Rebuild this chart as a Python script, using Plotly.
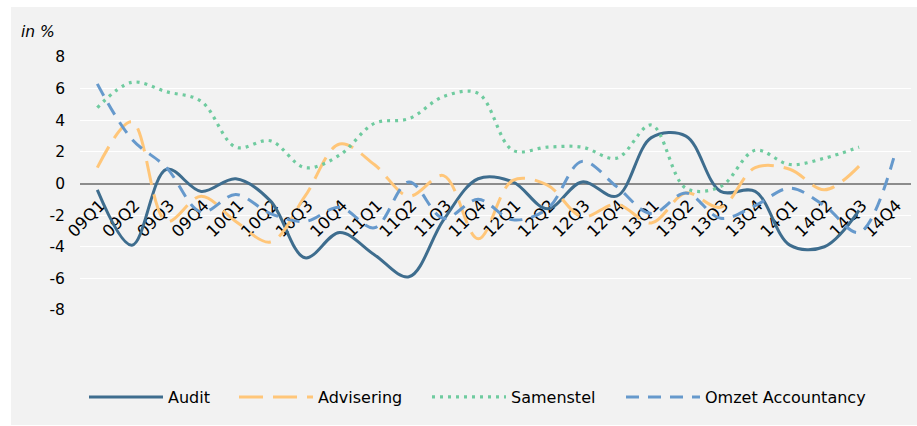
import plotly.graph_objects as go

# Quarterly change per service line, in %
quarters = ["09Q1", "09Q2", "09Q3", "09Q4", "10Q1", "10Q2", "10Q3", "10Q4",
            "11Q1", "11Q2", "11Q3", "11Q4", "12Q1", "12Q2", "12Q3", "12Q4",
            "13Q1", "13Q2", "13Q3", "13Q4", "14Q1", "14Q2", "14Q3", "14Q4"]

audit = [-0.4, -3.9, 0.9, -0.5, 0.3, -1.1, -4.7, -3.1, -4.5, -5.9, -2.3, 0.3,
         0.1, -1.6, 0.1, -0.8, 2.9, 3.0, -0.5, -0.5, -3.9, -4.0, -1.7, None]
advisering = [1.0, 3.9, -2.4, -0.8, -2.4, -3.7, -0.8, 2.5, 1.2, -0.8, 0.5, -3.5,
              0.2, -0.1, -2.1, -1.3, -2.5, -0.6, -1.5, 1.0, 0.9, -0.4, 1.1, None]
samenstel = [4.8, 6.4, 5.8, 5.2, 2.3, 2.7, 1.0, 1.8, 3.8, 4.1, 5.5, 5.7,
             2.1, 2.3, 2.3, 1.6, 3.7, -0.3, -0.2, 2.1, 1.2, 1.6, 2.3, None]
omzet = [6.3, 2.8, 1.0, -1.8, -0.7, -1.9, -2.4, -1.5, -2.8, 0.1, -2.2, -1.0,
         -2.3, -1.6, 1.4, -0.2, -1.9, -0.6, -2.2, -1.4, -0.3, -1.4, -3.1, 1.6]

y_ticks = [-8, -6, -4, -2, 0, 2, 4, 6, 8]

FONT = "DejaVu Sans"
W, H = 917, 426
PLOT_L, PLOT_R, PLOT_T, PLOT_B = 80, 911, 57, 310


def px_x(px):
    return (px - PLOT_L) / (PLOT_R - PLOT_L)


def px_y(py):
    return (PLOT_B - py) / (PLOT_B - PLOT_T)


# name, values, colour, dash, width, legend id, legend left edge (px)
series = [
    ("Audit", audit, "#3e6d8e", "solid", 3, "legend", 84),
    ("Advisering", advisering, "#ffc679", "24px,10px", 3, "legend2", 234),
    ("Samenstel", samenstel, "#6fcb9f", "3px,5px", 3.2, "legend3", 427),
    ("Omzet Accountancy", omzet, "#6699cc", "13px,9px", 3, "legend4", 621),
]

fig = go.Figure()
legends = {}
for name, vals, color, dash, width, leg, left in series:
    fig.add_trace(go.Scatter(
        x=quarters, y=vals, name=name, mode="lines", legend=leg,
        line=dict(color=color, width=width, dash=dash, shape="spline", smoothing=1.0),
        connectgaps=False, hoverinfo="skip",
    ))
    legends[leg] = dict(
        orientation="h", x=px_x(left), xanchor="left", y=px_y(397), yanchor="middle",
        font=dict(family=FONT, size=16, color="black"),
        bgcolor="rgba(0,0,0,0)", itemwidth=74,
    )

fig.update_layout(
    width=W, height=H,
    margin=dict(l=PLOT_L, r=W - PLOT_R, t=PLOT_T, b=H - PLOT_B, pad=0),
    paper_bgcolor="white",
    plot_bgcolor="rgba(0,0,0,0)",
    font=dict(family=FONT, size=15, color="black"),
    showlegend=True,
    shapes=[dict(
        type="rect", xref="paper", yref="paper",
        x0=px_x(11), x1=px_x(917), y0=px_y(425), y1=px_y(7),
        fillcolor="#f2f2f2", line=dict(width=0), layer="below",
    )],
    annotations=[dict(
        text="<i>in %</i>", xref="paper", yref="paper",
        x=px_x(19), y=px_y(32), xanchor="left", yanchor="middle",
        showarrow=False, font=dict(family=FONT, size=15.5, color="black"),
    )],
    **legends,
)

fig.update_xaxes(
    type="category", categoryorder="array", categoryarray=quarters,
    range=[-0.5, len(quarters) - 0.5],
    anchor="free", position=0.5,
    showgrid=False, zeroline=False,
    showline=True, linecolor="#8c8c8c", linewidth=1.6,
    ticks="", tickangle=-45, ticklabelstandoff=5, ticklabelshift=3,
    tickfont=dict(family=FONT, size=16.5, color="black"),
    layer="below traces",
)
fig.update_yaxes(
    range=[-8, 8], tickvals=y_ticks, ticktext=[str(v) for v in y_ticks],
    showgrid=True, gridcolor="white", gridwidth=1.2,
    zeroline=False, showline=False, ticks="",
    ticklabelstandoff=14,
    tickfont=dict(family=FONT, size=15.5, color="black"),
)

fig.write_html("out.html")
